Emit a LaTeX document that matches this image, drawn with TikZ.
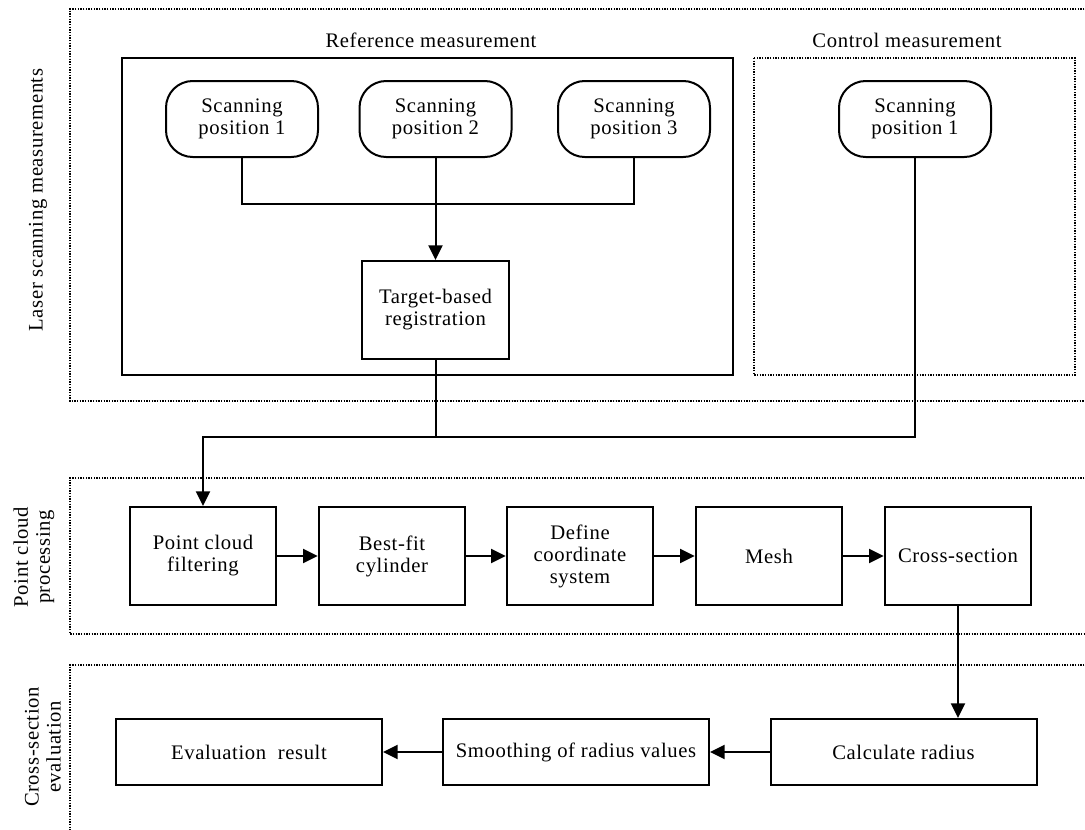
\documentclass[tikz,border=0pt]{standalone}
\usepackage{fontspec}
\setmainfont{Liberation Serif}[LetterSpace=3.0]
\usetikzlibrary{arrows.meta}
\begin{document}
\begin{tikzpicture}[x=0.75pt,y=-0.75pt,
  txt/.style={font=\fontsize{15.5pt}{16.5pt}\selectfont, align=center, inner sep=0pt},
  box/.style={txt, draw, line width=1.5pt, minimum width=110pt, minimum height=73.5pt},
  rbox/.style={txt, draw, line width=1.5pt, rounded corners=20pt, minimum width=114pt, minimum height=57pt},
  wbox/.style={txt, draw, line width=1.5pt, minimum width=199.5pt, minimum height=49.5pt},
  frame/.style={line width=1.2pt, dash pattern=on 1pt off 1pt},
  conn/.style={line width=1.5pt},
  arr/.style={conn, -{Triangle[length=11pt, width=10.5pt]}},
  side/.style={txt, rotate=90}
]
\useasboundingbox (0,0) rectangle (1085,829);
\clip (0,0) rectangle (1085,829);

% frames
\draw[frame] (1095,9) -- (70,9) -- (70,401) -- (1095,401);
\draw[frame] (1095,478) -- (70,478) -- (70,634) -- (1095,634);
\draw[frame] (1095,665) -- (70,665) -- (70,840);

% side labels
\node[side] (lsm) at (38,200) {Laser scanning measurements};
\node[side] (pcp) at (34,557) {Point cloud\\processing};
\node[side] (cse) at (43,747) {Cross-section\\evaluation};

% group boxes
\draw[line width=1.5pt] (122,58) rectangle (733,375);
\draw[frame] (754,58) rectangle (1075,375);
\node[txt] (reflab) at (431,40) {Reference measurement};
\node[txt] (ctrllab) at (907,40) {Control measurement};

% scanning positions
\node[rbox] (sp1) at (242,119) {Scanning\\position 1};
\node[rbox] (sp2) at (435.5,119) {Scanning\\position 2};
\node[rbox] (sp3) at (634,119) {Scanning\\position 3};
\node[rbox] (csp) at (915,119) {Scanning\\position 1};

\node[box] (tbr) at (435.5,310) {Target-based\\registration};

% row 2
\node[box] (pcf) at (203,556) {Point cloud\\filtering};
\node[box] (bfc) at (392,556) {Best-fit\\cylinder};
\node[box] (dcs) at (580,556) {Define\\coordinate\\system};
\node[box] (msh) at (769,556) {Mesh};
\node[box] (crs) at (958,556) {Cross-section};

% row 3
\node[wbox] (evr) at (249,752) {Evaluation\ \ result};
\node[wbox] (smr) at (576,752) {Smoothing of radius values};
\node[wbox] (clr) at (903.5,752) {Calculate radius};

% connectors
\coordinate (j1) at (435.5,204);
\coordinate (j2) at (435.5,437);
\draw[conn] (sp1.south) |- (j1) -| (sp3.south);
\draw[arr] (sp2.south) -- (tbr.north);
\draw[conn] (tbr.south) -- (j2);
\draw[conn] (csp.south) |- (j2);
\draw[arr] (j2) -| (pcf.north);
\draw[arr] (pcf) -- (bfc);
\draw[arr] (bfc) -- (dcs);
\draw[arr] (dcs) -- (msh);
\draw[arr] (msh) -- (crs);
\draw[arr] (crs.south) -- (crs.south |- clr.north);
\draw[arr] (clr) -- (smr);
\draw[arr] (smr) -- (evr);
\end{tikzpicture}
\end{document}
